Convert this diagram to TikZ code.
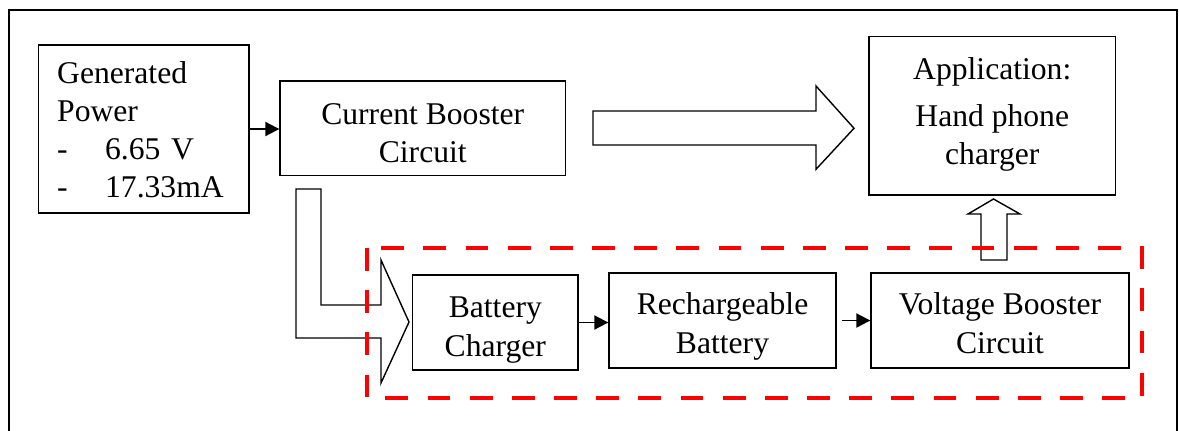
\documentclass[tikz,border=0pt]{standalone}
\usepackage{fontspec}
\setmainfont{Liberation Serif}
\usetikzlibrary{arrows.meta}

\newcommand{\boxfont}{\fontsize{18}{21.8}\selectfont}
\newcommand{\dashitem}[1]{\makebox[0.96cm][l]{-}#1}

\tikzset{
  blk/.style={draw, line width=0.8pt, inner sep=0pt, align=center, font=\boxfont, text depth=0.2cm},
  conn/.style={line width=1.1pt, -{Triangle[length=8pt,width=8pt]}},
  fat/.style={draw, line width=0.8pt, fill=white, line join=miter},
  grp/.style={draw=red, line width=2.3pt, dash pattern=on 13pt off 11pt},
}

\begin{document}
\begin{tikzpicture}[x=0.02cm, y=-0.02cm]
  \useasboundingbox (0,0) rectangle (1179,430);

  % Frame
  \draw[line width=0.8pt] (9,432) -- (9,10) -- (1177,10) -- (1177,432);

  % Boxes
  \node[blk, minimum width=4.21cm, minimum height=3.36cm, text width=3.46cm, align=left, text height=0.4cm, text depth=2.24cm] (GP) at (143.65,129)
    {Generated\\Power\\\dashitem{6.65 V}\\\dashitem{17.33mA}};
  \node[blk, minimum width=5.71cm, minimum height=1.89cm, text height=1.586cm] (CB) at (422.75,128.35) {Current Booster\\Circuit};
  \node[blk, minimum width=4.93cm, minimum height=3.17cm, text height=2.166cm] (APP) at (992.25,115.85) {Application:\\[0.17cm]Hand phone\\charger};
  \node[blk, minimum width=3.31cm, minimum height=1.9cm, text height=1.54cm] (BC) at (495.35,322.5) {Battery\\Charger};
  \node[blk, minimum width=4.54cm, minimum height=1.9cm, text height=1.5cm] (RB) at (722.5,320.5) {Rechargeable\\Battery};
  \node[blk, minimum width=5.16cm, minimum height=1.9cm, text height=1.5cm] (VB) at (1000,320.5) {Voltage Booster\\Circuit};

  % Arrows
  \draw[conn] (GP.east) -- (GP.east -| CB.west);
  \draw[conn] (BC.east) -- (BC.east -| RB.west);
  \draw[conn, shorten <=3] (RB.east) -- (RB.east -| VB.west);

  \draw[fat] (593,111) -- (816,111) -- (816,86) -- (854,128.3) -- (816,169.3) -- (816,145) -- (593,145) -- cycle;
  \draw[fat] (296,189) -- (321,189) -- (321,305) -- (381,305) -- (381,260) -- (409,322) -- (381,383) -- (381,338) -- (296,338) -- cycle;
  \draw[fat] (981,260) -- (981,214) -- (968,214) -- (993.5,199) -- (1020,214) -- (1007,214) -- (1007,260) -- cycle;

  % Group
  \draw[grp] (366.7,248) rectangle (1142,398);
\end{tikzpicture}
\end{document}
